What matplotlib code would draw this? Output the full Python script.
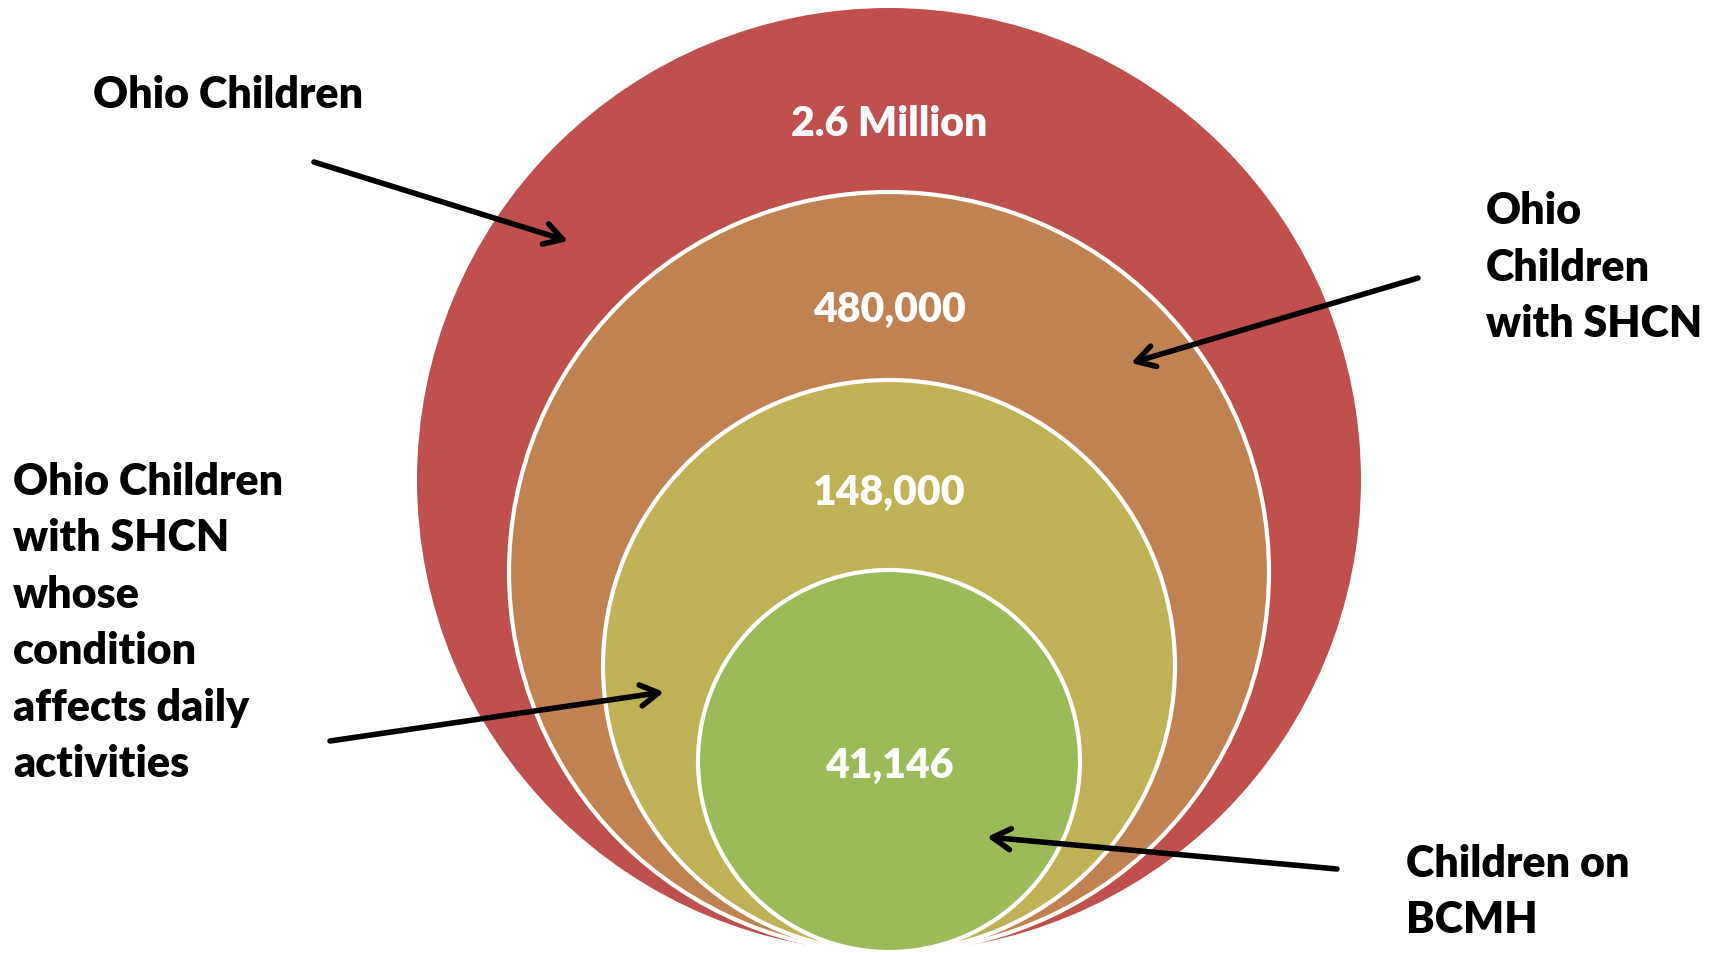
"""
Nested circles: Ohio children, children with SHCN, and children on BCMH.
"""

import matplotlib
matplotlib.use("Agg")
import matplotlib.pyplot as plt
from matplotlib.patches import Circle

# groups, outermost first
values = ["2.6 Million", "480,000", "148,000", "41,146"]
groups = ["Ohio Children",
          "Ohio\nChildren\nwith SHCN",
          "Ohio Children\nwith SHCN\nwhose\ncondition\naffects daily\nactivities",
          "Children on\nBCMH"]
colors = ["#C0504D", "#C08250", "#BFB256", "#9BBB59"]

# layout (pixel space of the 1709x954 image)
radii = [472, 380, 286, 191]
cx, bottom = 889, 953
value_y = [124, 310, 493, 766]
label_pos = [(93, 95), (1486, 268), (13, 623), (1406, 892)]
arrow_tail = [(314, 163), (1418, 279), (330, 742), (1337, 870)]
arrow_tip = [(568, 242), (1131, 364), (664, 693), (987, 838)]

plt.rcParams['font.family'] = ['Lato', 'DejaVu Sans']

fig = plt.figure(figsize=(17.09, 9.54), dpi=100)
ax = fig.add_axes([0, 0, 1, 1])
ax.set_xlim(0, 1709)
ax.set_ylim(954, 0)
ax.set_aspect("equal")
ax.axis("off")

for i, r in enumerate(radii):
    edge = "none" if i == 0 else "white"
    ax.add_patch(Circle((cx, bottom - r), r, facecolor=colors[i],
                        edgecolor=edge, linewidth=3, zorder=1 + i))
    ax.text(cx, value_y[i], values[i], color="white", fontsize=29.5,
            fontweight="heavy", ha="center", va="center", zorder=10)

for i, g in enumerate(groups):
    x, y = label_pos[i]
    ax.text(x, y, g, fontsize=31, fontweight="heavy", color="black",
            ha="left", va="center", linespacing=1.5, zorder=10)
    ax.annotate("", xy=arrow_tip[i], xytext=arrow_tail[i],
                arrowprops=dict(arrowstyle="->,head_length=0.65,head_width=0.38",
                                mutation_scale=20, color="black", lw=4,
                                shrinkA=0, shrinkB=0),
                zorder=11)

fig.savefig("out.png", dpi=100)
